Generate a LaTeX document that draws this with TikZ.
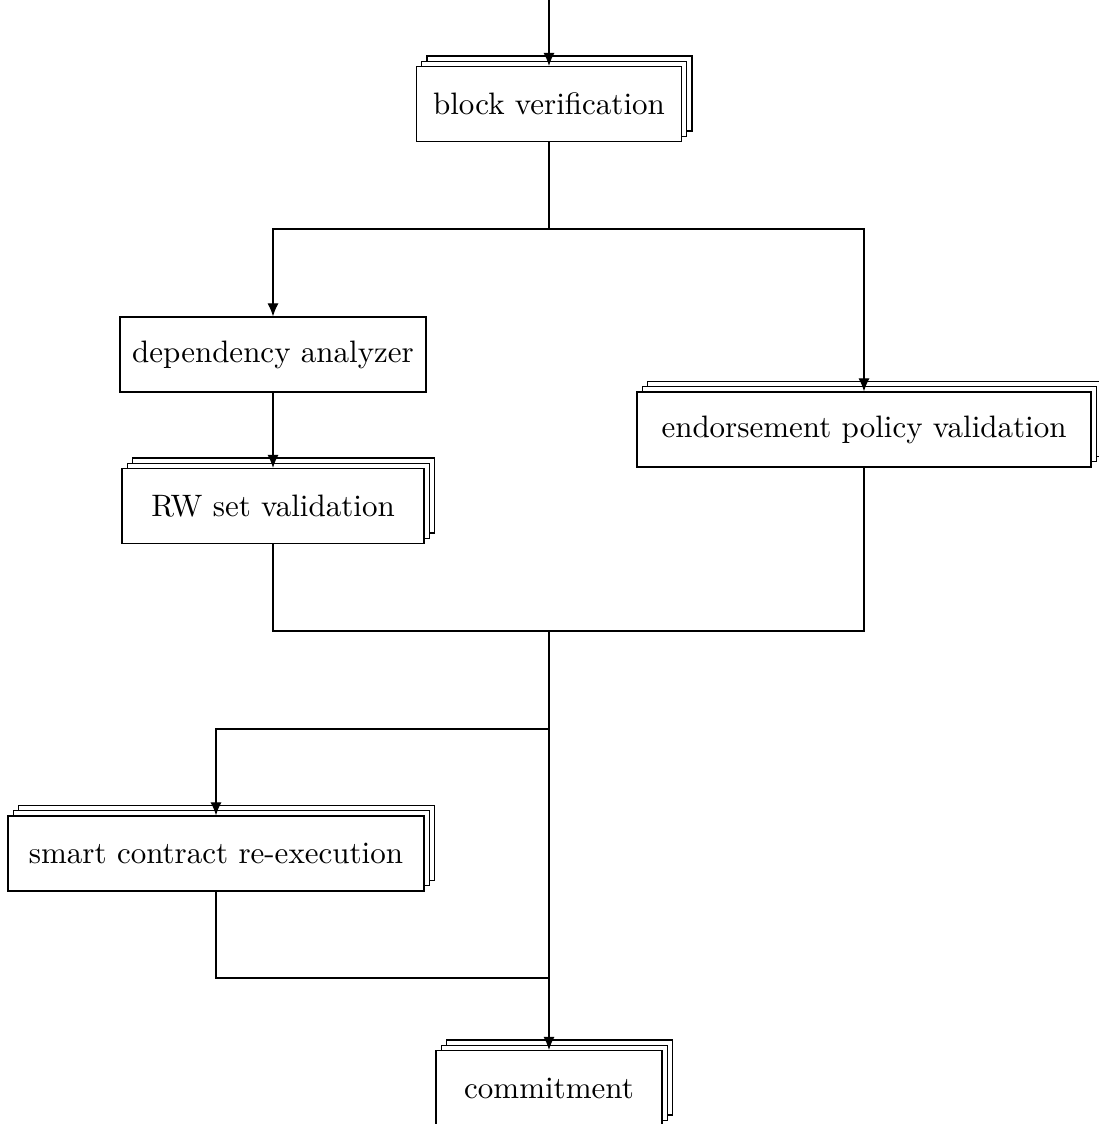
\documentclass[tikz,border=0pt]{standalone}
\usetikzlibrary{shadows,arrows.meta}
\begin{document}
\begin{tikzpicture}[x=0.3226pt,y=-0.3226pt,
  box/.style={draw,fill=white,line width=0.4pt,minimum height=24.2pt,inner sep=0pt},
  stack/.style={box,
    copy shadow={shadow xshift=3.4pt,shadow yshift=3.4pt,draw=black,fill=white},
    copy shadow={shadow xshift=1.7pt,shadow yshift=1.7pt,draw=black,fill=white}},
  arr/.style={-{Latex[length=4.2pt,width=3.6pt]},line width=0.4pt},
  wire/.style={line width=0.4pt}]
\useasboundingbox (0,0) rectangle (1099,1124);

% stages
\node[stack,minimum width=85.5pt] (bv) at (549,104) {block verification};
\node[box,minimum width=98.7pt] (da) at (273,354.5) {dependency analyzer};
\node[stack,minimum width=97.4pt] (rw) at (273,506) {RW set validation};
\node[stack,minimum width=146.5pt] (epv) at (864,429.5) {endorsement policy validation};
\node[stack,minimum width=134.2pt] (sc) at (216,853.5) {smart contract re-execution};
\node[stack,minimum width=72.9pt] (cm) at (549,1088) {commitment};

% branch and join points
\coordinate (in) at (549,0);
\coordinate (split) at (549,229);
\coordinate (join) at (549,631);
\coordinate (fork) at (549,729);
\coordinate (merge) at (549,978);

% connectors
\draw[arr] (in) -- (bv);
\draw[wire] (bv.south) -- (split);
\draw[arr] (split) -| (da.north);
\draw[arr] (split) -| (epv.north);
\draw[arr] (da) -- (rw);
\draw[wire] (rw.south) |- (join) -| (epv.south);
\draw[arr] (join) -- (cm.north);
\draw[arr] (fork) -| (sc.north);
\draw[wire] (sc.south) |- (merge);
\end{tikzpicture}
\end{document}
